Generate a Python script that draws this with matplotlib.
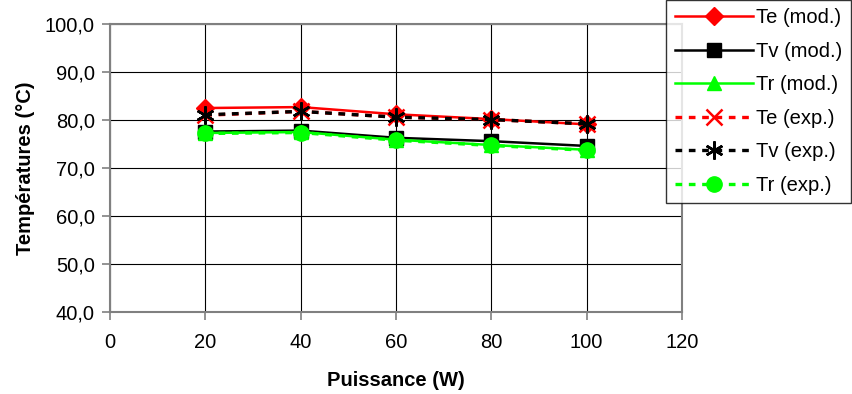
import matplotlib
matplotlib.use("Agg")
import matplotlib.pyplot as plt
from matplotlib.ticker import FuncFormatter

plt.rcParams['font.family'] = ['Liberation Sans', 'DejaVu Sans']

puissance = [20, 40, 60, 80, 100]
te_mod = [82.5, 82.7, 81.2, 80.2, 79.1]
tv_mod = [77.6, 77.8, 76.3, 75.6, 74.6]
tr_mod = [77.3, 77.5, 75.9, 74.8, 73.8]
te_exp = [81.0, 81.8, 80.6, 80.1, 79.2]
tv_exp = [81.1, 81.8, 80.6, 80.1, 79.2]
tr_exp = [77.2, 77.4, 75.8, 74.7, 73.7]

fig = plt.figure(figsize=(8.52, 3.94), dpi=100)
ax = fig.add_axes([0.129, 0.208, 0.6715, 0.731])

ax.plot(puissance, te_mod, color='#ff0000', lw=1.8, marker='D', ms=9, label='Te (mod.)')
ax.plot(puissance, tv_mod, color='#000000', lw=1.8, marker='s', ms=10, label='Tv (mod.)')
ax.plot(puissance, tr_mod, color='#00ff00', lw=1.8, marker='^', ms=10, label='Tr (mod.)')
ax.plot(puissance, te_exp, color='#ff0000', lw=2.4, ls=(0, (2, 2)), marker='x', ms=11, mew=1.8, label='Te (exp.)')
ax.plot(puissance, tv_exp, color='#000000', lw=2.4, ls=(0, (2, 2)), marker=(6, 2, 0), ms=13, mew=1.8, label='Tv (exp.)')
ax.plot(puissance, tr_exp, color='#00ff00', lw=2.4, ls=(0, (2, 2)), marker='o', ms=11, label='Tr (exp.)')

ax.set_xlim(0, 120)
ax.set_ylim(40, 100)
ax.set_xticks([0, 20, 40, 60, 80, 100, 120])
ax.set_yticks([40, 50, 60, 70, 80, 90, 100])
ax.yaxis.set_major_formatter(FuncFormatter(lambda v, p: f"{v:.1f}".replace('.', ',')))
ax.grid(True, color='black', lw=0.8)
ax.set_axisbelow(True)
for s in ax.spines.values():
    s.set_color('#808080')
    s.set_linewidth(1.5)
ax.tick_params(axis='both', labelsize=14.5, length=6, color='#808080', width=1.2)
ax.tick_params(axis='x', pad=9)
ax.tick_params(axis='y', pad=5)

ax.set_xlabel('Puissance (W)', fontsize=14.5, fontweight='bold', labelpad=14)
ax.set_ylabel('Températures (°C)', fontsize=14.5, fontweight='bold', labelpad=7)

leg = ax.legend(loc='upper right', bbox_to_anchor=(0.999, 1.0), bbox_transform=fig.transFigure,
                fontsize=14.5, frameon=True, fancybox=False, edgecolor='black',
                handlelength=3.9, labelspacing=0.72, handletextpad=0.15,
                borderpad=0.42, borderaxespad=0.0)
leg.get_frame().set_linewidth(1.0)

fig.savefig('out.png', dpi=100)
